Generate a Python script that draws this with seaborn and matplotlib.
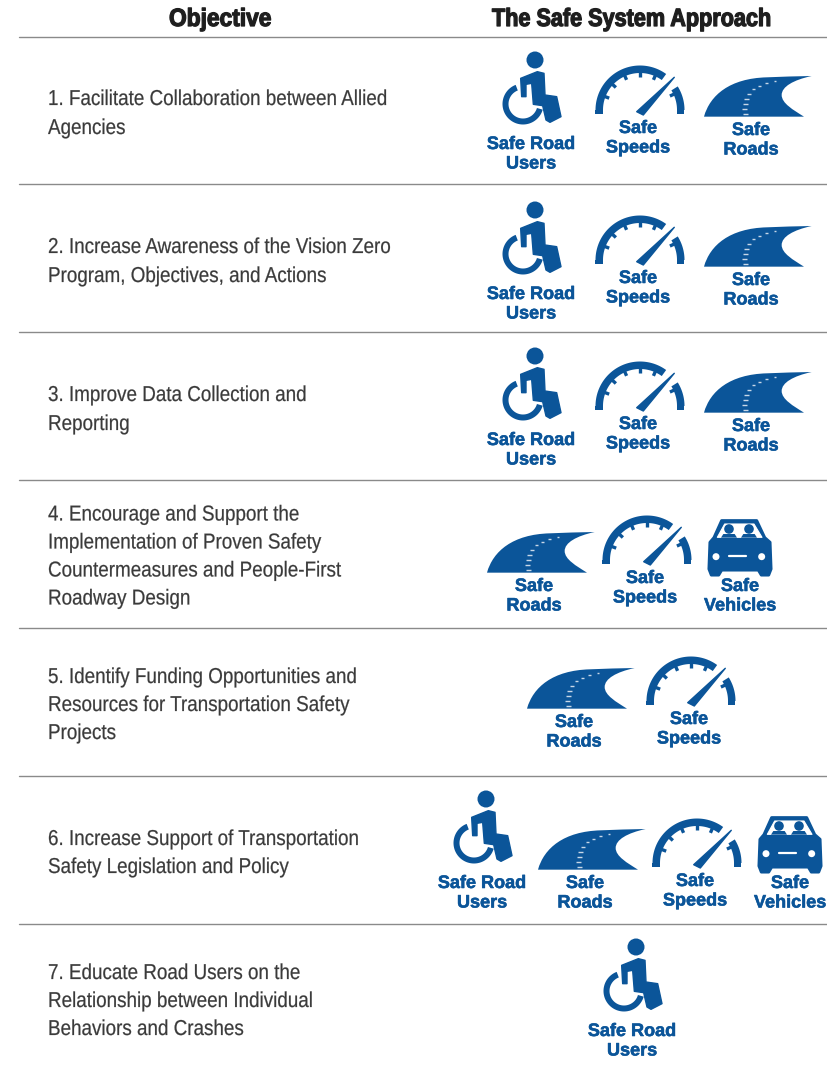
"""Safe System Approach objectives table, drawn on a pixel sized axes."""

from __future__ import annotations

import matplotlib

matplotlib.use("Agg")

import matplotlib.patheffects as pe
import matplotlib.pyplot as plt
import numpy as np
import pandas as pd
import seaborn as sns
from matplotlib.patches import Circle, PathPatch, Polygon
from matplotlib.path import Path as MplPath
from matplotlib.transforms import Affine2D

BLUE = "#0B5599"
TEXT = "#3A3A3A"
DARK = "#1E1E1E"
RULE = "#8A8A8A"
SANS = ["Liberation Sans", "DejaVu Sans"]

HEADERS = ["Objective", "The Safe System Approach"]
OBJECTIVES = [
    ["1. Facilitate Collaboration between Allied", "Agencies"],
    ["2. Increase Awareness of the Vision Zero", "Program, Objectives, and Actions"],
    ["3. Improve Data Collection and", "Reporting"],
    [
        "4. Encourage and Support the",
        "Implementation of Proven Safety",
        "Countermeasures and People-First",
        "Roadway Design",
    ],
    [
        "5. Identify Funding Opportunities and",
        "Resources for Transportation Safety",
        "Projects",
    ],
    ["6. Increase Support of Transportation", "Safety Legislation and Policy"],
    [
        "7. Educate Road Users on the",
        "Relationship between Individual",
        "Behaviors and Crashes",
    ],
]
ROW_ICONS = [
    ["users", "speeds", "roads"],
    ["users", "speeds", "roads"],
    ["users", "speeds", "roads"],
    ["roads", "speeds", "vehicles"],
    ["roads", "speeds"],
    ["users", "roads", "speeds", "vehicles"],
    ["users"],
]
ICON_LABELS = {
    "users": ["Safe Road", "Users"],
    "speeds": ["Safe", "Speeds"],
    "roads": ["Safe", "Roads"],
    "vehicles": ["Safe", "Vehicles"],
}

# layout, in reference pixels
RULE_Y = [37, 184, 332, 480, 628, 776, 924]
HEADER_X = [169, 492]
HEADER_SQUEEZE = [0.91, 0.865]
TEXT_Y = [
    [99.5, 128.5],
    [247.5, 276.5],
    [395.5, 424.5],
    [515, 543, 571, 599],
    [677.5, 705.5, 733.5],
    [839.5, 867.5],
    [973.5, 1001.5, 1029.5],
]
ICON_XY = [
    [(531, 143), (638, 127), (751, 129)],
    [(531, 293), (638, 277), (751, 279)],
    [(531, 439), (638, 423), (751, 425)],
    [(534, 585), (645, 577), (740, 585)],
    [(574, 721), (689, 718)],
    [(482, 882), (585, 882), (695, 880), (790, 882)],
    [(632, 1030)],
]


class Squeeze(pe.AbstractPathEffect):
    """Condensed look: no narrow family is installed, so scale the glyphs in x."""

    def __init__(self, sx, stroke=0.0):
        super().__init__()
        self.sx = sx
        self.stroke = stroke

    def draw_path(self, renderer, gc, tpath, affine, rgbFace=None):
        aff = Affine2D().scale(self.sx, 1) + affine
        gc0 = renderer.new_gc()
        gc0.copy_properties(gc)
        gc0.set_linewidth(self.stroke)
        gc0.set_foreground(rgbFace)
        renderer.draw_path(gc0, tpath, aff, rgbFace)
        gc0.restore()


def ring(cx, cy, r_in, r_out, a0, a1):
    t = np.radians(np.linspace(a0, a1, 60))
    outer = np.c_[cx + r_out * np.cos(t), cy - r_out * np.sin(t)]
    inner = np.c_[cx + r_in * np.cos(t[::-1]), cy - r_in * np.sin(t[::-1])]
    return np.vstack([outer, inner])


def draw_users(ax, tr):
    to_local = lambda pts: np.array(pts) / 3 - [51, 98]
    body = [
        (122, 100), (172, 80), (192, 85), (195, 150), (230, 155), (243, 215),
        (210, 232), (198, 225), (188, 182), (160, 178), (155, 115), (138, 118),
        (138, 155), (125, 155),
    ]
    ax.add_patch(Polygon(to_local(body), fc=BLUE, ec=BLUE, lw=1.0, joinstyle="round", transform=tr))
    ax.add_patch(Circle((4, -83), 8.5, fc=BLUE, ec="none", transform=tr))
    ax.add_patch(Polygon(ring(-8, -39, 14.5, 20.5, 111, 344), fc=BLUE, ec="none", transform=tr))


def draw_speeds(ax, tr):
    cx, cy = 2, -17
    ax.add_patch(Polygon(ring(cx, cy, 37, 44.5, 54, 180), fc=BLUE, ec="none", transform=tr))
    ax.add_patch(Polygon(ring(cx, cy, 37, 44.5, 0, 32), fc=BLUE, ec="none", transform=tr))
    for x0 in (cx - 44.5, cx + 37):
        ax.add_patch(
            Polygon([(x0, cy), (x0 + 7.5, cy), (x0 + 7.5, cy + 4), (x0, cy + 4)], fc=BLUE, ec="none", transform=tr)
        )
    for a in (159, 137, 114, 90, 66, 25):
        t = np.radians(a)
        ax.plot(
            [cx + 33 * np.cos(t), cx + 38 * np.cos(t)],
            [cy - 33 * np.sin(t), cy - 38 * np.sin(t)],
            color=BLUE, lw=2.4, solid_capstyle="butt", transform=tr,
        )
    ax.add_patch(
        Polygon([(-1.3, -15.3), (36.3, -49.7), (5.3, -12)], fc=BLUE, ec=BLUE, lw=1.0, joinstyle="round", transform=tr)
    )


def draw_roads(ax, tr):
    pts = [
        (672, 215), (690, 150), (750, 100), (860, 97), (905, 95), (950, 94), (995, 93),
        (940, 105), (905, 125), (905, 150), (905, 175), (940, 195), (972, 215), (672, 215),
    ]
    codes = [MplPath.MOVETO] + [MplPath.CURVE4] * 12 + [MplPath.CLOSEPOLY]
    verts = np.array(pts) / 3 - [271, 84]
    ax.add_patch(PathPatch(MplPath(verts, codes), fc=BLUE, ec="none", transform=tr))
    dashes = [
        (797, 208, 5), (795, 192, 5), (797, 177, 4.5), (800, 162, 4.5), (808, 147, 4),
        (820, 133, 3.5), (838, 122, 3), (860, 114, 3), (885, 109, 2.5),
    ]
    for x, y, w in dashes:
        x, y = x / 3 - 271, y / 3 - 84
        ax.plot([x - w / 2, x + w / 2], [y, y], color="#C8D8E8", lw=1.0, solid_capstyle="butt", transform=tr)


def draw_vehicles(ax, tr):
    to_local = lambda pts: np.array(pts) / 3 - [50, 80]
    body = [
        (60, 112), (72, 98), (95, 47), (200, 47), (224, 98), (240, 112), (243, 192),
        (236, 210), (214, 210), (205, 195), (95, 195), (86, 210), (64, 210), (57, 192),
    ]
    ax.add_patch(Polygon(to_local(body), fc=BLUE, ec=BLUE, lw=2.2, joinstyle="round", transform=tr))
    glass = [(82, 97), (104, 57), (192, 57), (216, 97)]
    ax.add_patch(Polygon(to_local(glass), fc="white", ec="white", lw=0.8, joinstyle="round", transform=tr))
    for hx in (117, 177):
        ax.add_patch(Circle(to_local([(hx, 72)])[0], 4.8, fc=BLUE, ec="none", transform=tr))
        shoulders = [(hx - 24, 98), (hx - 17, 87), (hx + 17, 87), (hx + 24, 98)]
        ax.add_patch(Polygon(to_local(shoulders), fc=BLUE, ec="none", transform=tr))
    for lx in (78, 215):
        ax.add_patch(Circle(to_local([(lx, 155)])[0], 3.5, fc="white", ec="none", transform=tr))
    grille = to_local([(118, 154), (168, 154)])
    ax.plot(grille[:, 0], grille[:, 1], color="white", lw=1.6, solid_capstyle="round", transform=tr)


DRAWERS = {
    "users": draw_users,
    "speeds": draw_speeds,
    "roads": draw_roads,
    "vehicles": draw_vehicles,
}


def draw_icon(ax, kind, x, y):
    tr = Affine2D().translate(x, y) + ax.transData
    DRAWERS[kind](ax, tr)
    for i, line in enumerate(ICON_LABELS[kind]):
        ax.text(
            x, y + 1.5 + i * 19.5, line, color=BLUE, fontsize=13, fontweight="bold",
            family=SANS, ha="center", va="center",
            path_effects=[pe.withStroke(linewidth=0.4, foreground=BLUE)],
        )


def main() -> None:
    sns.set_theme(style="white")
    fig = plt.figure(figsize=(8.28, 10.65), dpi=100, facecolor="white")
    ax = fig.add_axes([0, 0, 1, 1])

    rules = pd.DataFrame(
        [{"row": i, "x": x, "y": y} for i, y in enumerate(RULE_Y) for x in (19, 828)]
    )
    sns.lineplot(
        data=rules, x="x", y="y", units="row", estimator=None,
        color=RULE, lw=1.0, ax=ax, legend=False,
    )
    ax.set_xlim(0, 828)
    ax.set_ylim(1065, 0)
    ax.axis("off")

    for text, x, sx in zip(HEADERS, HEADER_X, HEADER_SQUEEZE):
        ax.text(
            x, 19, text, color=DARK, fontsize=18, fontweight="bold", family=SANS,
            ha="left", va="center", path_effects=[Squeeze(sx, stroke=0.9)],
        )

    for lines, ys in zip(OBJECTIVES, TEXT_Y):
        for line, y in zip(lines, ys):
            ax.text(
                48, y, line, color=TEXT, fontsize=15.5, family=SANS,
                ha="left", va="center", path_effects=[Squeeze(0.875, stroke=0.15)],
            )

    for kinds, anchors in zip(ROW_ICONS, ICON_XY):
        for kind, (x, y) in zip(kinds, anchors):
            draw_icon(ax, kind, x, y)

    fig.savefig("out.png", dpi=100, facecolor="white")
    plt.close(fig)


if __name__ == "__main__":
    main()
